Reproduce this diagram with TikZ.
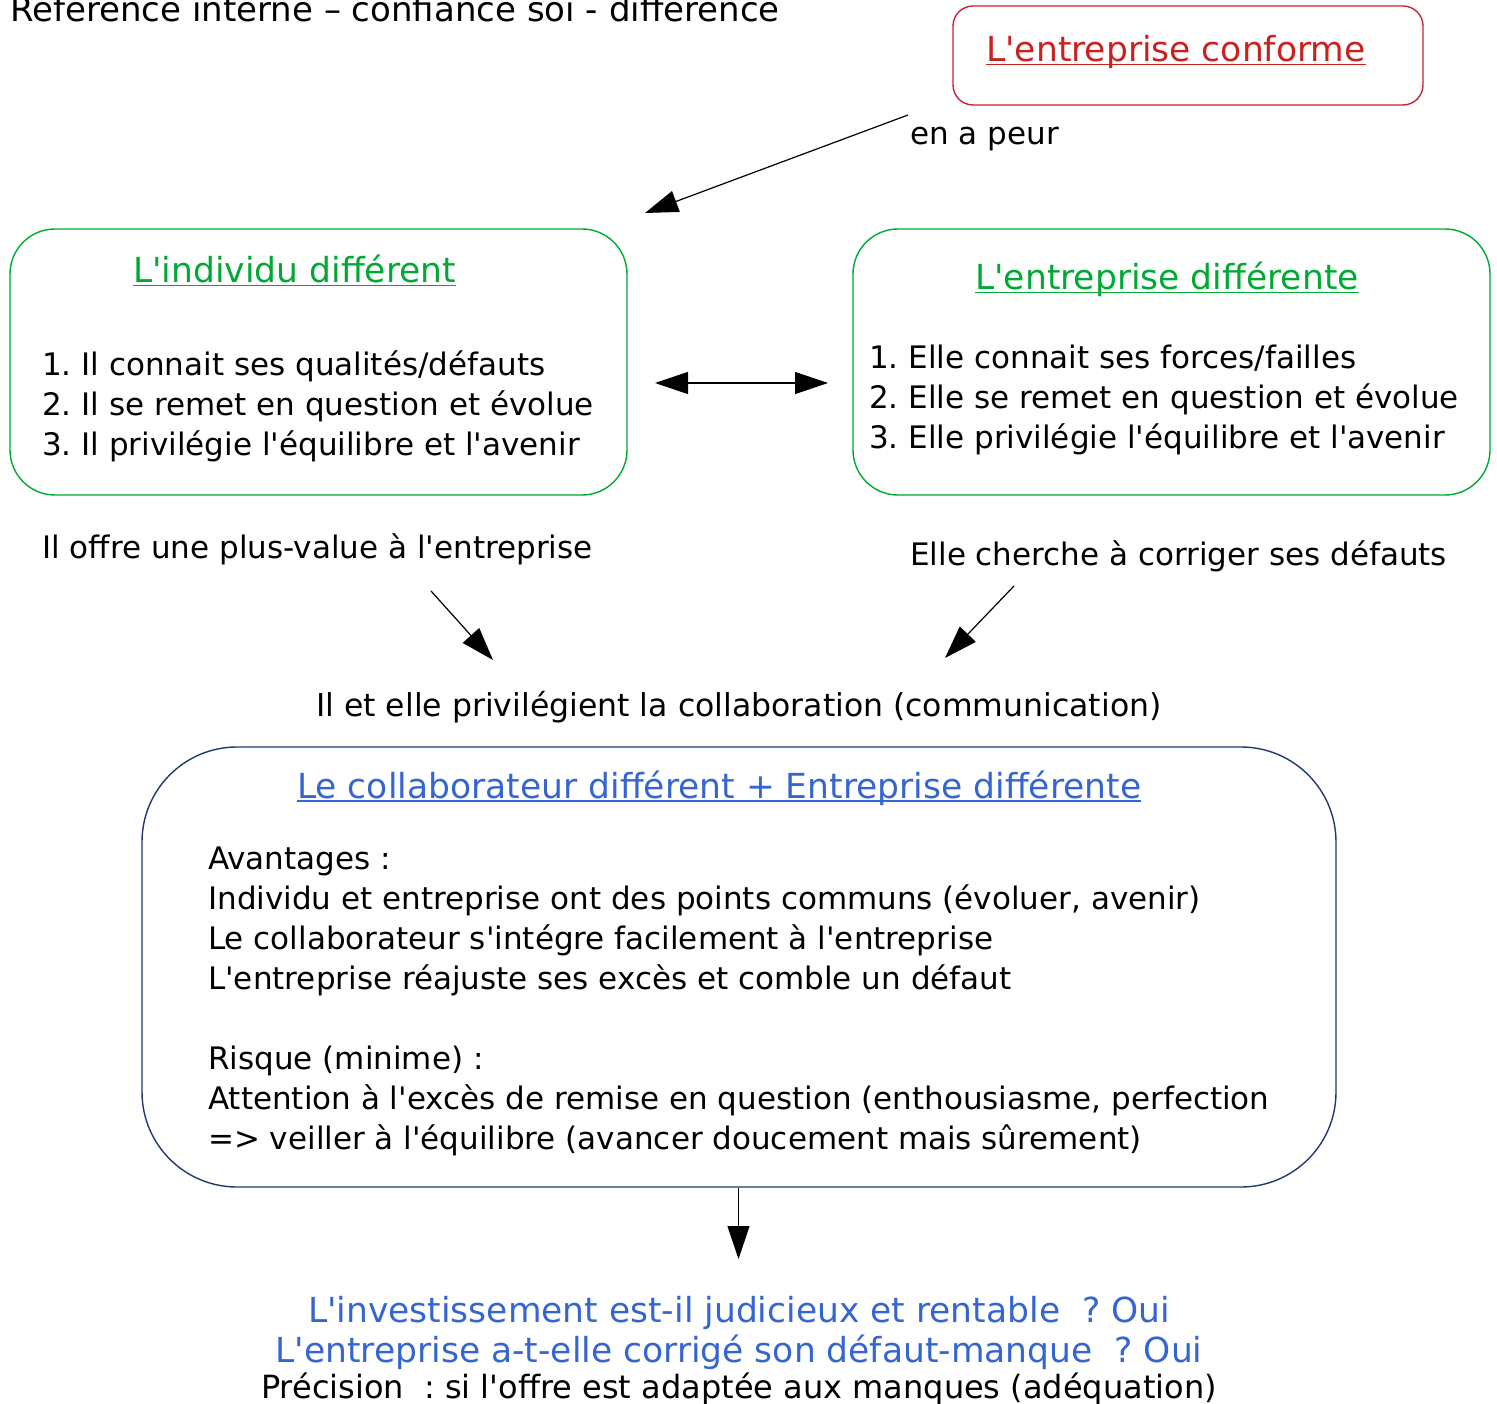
\documentclass[tikz,border=0pt]{standalone}
\usepackage{fontspec}
\setmainfont{DejaVu Sans}[Ligatures=TeXOff]
\usetikzlibrary{arrows.meta}
\definecolor{cred}{HTML}{C9211E}
\definecolor{credline}{HTML}{C9213E}
\definecolor{cgreen}{HTML}{00A933}
\definecolor{cblue}{HTML}{3465D0}
\definecolor{cnavy}{HTML}{1F3A6A}
\newcommand\myul[1]{\setbox0\hbox{#1}\rlap{\rule[-3.5pt]{\wd0}{1.6pt}}\box0}
\frenchspacing
\begin{document}
\begin{tikzpicture}[x=1pt,y=-1pt,
  body/.style={inner sep=0pt, anchor=base west, font=\fontsize{31}{38}\selectfont},
  head/.style={inner sep=0pt, anchor=base west, font=\fontsize{34.5}{40}\selectfont},
  frame/.style={draw, line width=1.4pt, rounded corners=#1, inner sep=0pt},
  arr/.style={line width=1.2pt, -{Triangle[length=33pt,width=22pt]}},
  darr/.style={line width=1.2pt, {Triangle[length=33pt,width=22pt]}-{Triangle[length=33pt,width=22pt]}}]
\clip (0,0) rectangle (1497,1404);
\useasboundingbox (0,0) rectangle (1497,1404);
% title
\node[head, font=\fontsize{34}{40}\selectfont] (title) at (10,22) {Référence interne – confiance soi - différence};
% boxes
\node[frame=20pt, draw=credline, minimum width=470pt, minimum height=99pt] (conf) at (1188,55.5) {};
\node[frame=45pt, draw=cgreen, minimum width=617pt, minimum height=266pt] (ind) at (318.5,362) {};
\node[frame=45pt, draw=cgreen, minimum width=637pt, minimum height=266pt] (ent) at (1171.5,362) {};
\node[frame=95pt, draw=cnavy, minimum width=1194pt, minimum height=440pt] (col) at (739,967) {};
% red box text
\node[head, text=cred] (confh) at (986,62) {\myul{L'entreprise conforme}};
\node[body] (peur) at (910,145) {en a peur};
% left box
\node[head, text=cgreen] (indh) at (133,283) {\myul{L'individu différent}};
\node[body] (ind1) at (42,376) {1. Il connait ses qualités/défauts};
\node[body] (ind2) at (42,416) {2. Il se remet en question et évolue};
\node[body] (ind3) at (42,456) {3. Il privilégie l'équilibre et l'avenir};
% right box
\node[head, text=cgreen] (enth) at (975,290) {\myul{L'entreprise différente}};
\node[body] (ent1) at (869,369) {1. Elle connait ses forces/failles};
\node[body] (ent2) at (869,409) {2. Elle se remet en question et évolue};
\node[body] (ent3) at (869,449) {3. Elle privilégie l'équilibre et l'avenir};
% middle texts
\node[body] (plus) at (42,558) {Il offre une plus-value à l'entreprise};
\node[body] (corr) at (910,565) {Elle cherche à corriger ses défauts};
\node[body, font=\fontsize{31.5}{38}\selectfont] (collab) at (316,716) {Il et elle privilégient la collaboration (communication)};
% blue box
\node[head, text=cblue] (colh) at (297,798) {\myul{Le collaborateur différent + Entreprise différente}};
\node[body] (c1) at (208,869) {Avantages :};
\node[body] (c2) at (208,909) {Individu et entreprise ont des points communs (évoluer, avenir)};
\node[body] (c3) at (208,949) {Le collaborateur s'intégre facilement à l'entreprise};
\node[body] (c4) at (208,989) {L'entreprise réajuste ses excès et comble un défaut};
\node[body] (c5) at (208,1069) {Risque (minime) :};
\node[body] (c6) at (208,1109) {Attention à l'excès de remise en question (enthousiasme, perfection};
\node[body] (c7) at (208,1149) {=> veiller à l'équilibre (avancer doucement mais sûrement)};
% bottom
\node[head, anchor=base, text=cblue] (b1) at (739,1322) {L'investissement est-il judicieux et rentable \ ? Oui};
\node[head, anchor=base, text=cblue] (b2) at (739,1362) {L'entreprise a-t-elle corrigé son défaut-manque \ ? Oui};
\node[body, anchor=base, font=\fontsize{32}{38}\selectfont] (b3) at (739,1398) {Précision \ : si l'offre est adaptée aux manques (adéquation)};
% arrow coordinates
\coordinate (a1s) at (908,115); \coordinate (a1e) at (645,213);
\coordinate (a2s) at (655,383); \coordinate (a2e) at (828,383);
\coordinate (a3s) at (431,591); \coordinate (a3e) at (493,660);
\coordinate (a4s) at (1014,586); \coordinate (a4e) at (945,658);
\coordinate (a5s) at (738.5,1188); \coordinate (a5e) at (738.5,1259);
\draw[arr] (a1s) -- (a1e);
\draw[darr] (a2s) -- (a2e);
\draw[arr] (a3s) -- (a3e);
\draw[arr] (a4s) -- (a4e);
\draw[arr] (col.south -| a5s) -- (a5e);
\end{tikzpicture}
\end{document}
